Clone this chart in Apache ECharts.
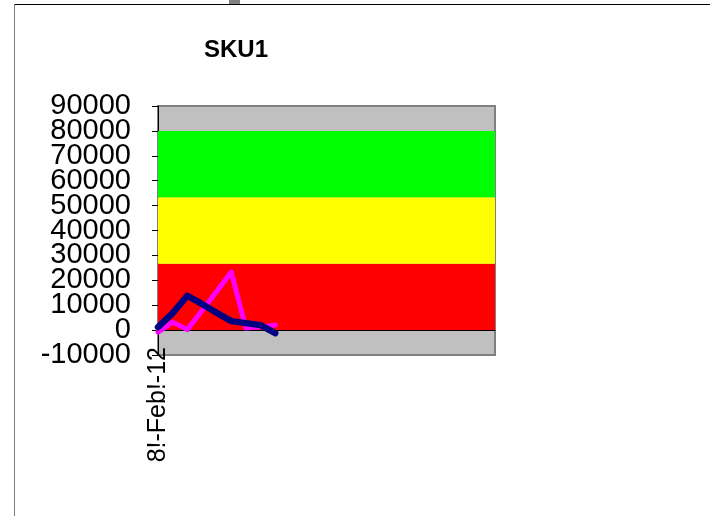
<!DOCTYPE html>
<html>
<head>
<meta charset="utf-8">
<script src="https://cdn.jsdelivr.net/npm/echarts@6/dist/echarts.min.js"></script>
<style>html,body{margin:0;padding:0;background:#fff;}#c{width:710px;height:516px;}</style>
</head>
<body>
<div id="c"></div>
<script>
var categories = ["8!-Feb!-12","9!-Feb!-12","10!-Feb!-12","11!-Feb!-12","12!-Feb!-12","13!-Feb!-12","14!-Feb!-12","15!-Feb!-12","16!-Feb!-12","17!-Feb!-12","18!-Feb!-12","19!-Feb!-12","20!-Feb!-12","21!-Feb!-12","22!-Feb!-12","23!-Feb!-12","24!-Feb!-12","25!-Feb!-12","26!-Feb!-12","27!-Feb!-12","28!-Feb!-12","29!-Feb!-12","1!-Mar!-12","2!-Mar!-12"];
var magentaValues = [-800, 3200, 200, 7800, 15500, 23300, 800, 1300, 2000];
var navyValues = [1200, 6800, 13800, 10500, 7000, 3600, 2800, 2000, -1200];
var bands = [
  {from: 0, to: 26667, color: "#FF0000"},
  {from: 26667, to: 53333, color: "#FFFF00"},
  {from: 53333, to: 80000, color: "#00FF00"}
];
var yMin = -10000, yMax = 90000, yStep = 10000;
var yTickLabelsOdd = [-10000, 10000, 30000, 50000, 70000, 90000];
var yTickLabelsEven = [0, 20000, 40000, 60000, 80000];

var chart = echarts.init(document.getElementById('c'));
var font = "'Liberation Sans', Arial, sans-serif";
function yLabel(vals) {
  return {
    margin: 27, fontFamily: font, fontSize: 29, color: '#000',
    customValues: vals, showMinLabel: true, showMaxLabel: true,
    formatter: function (v) { return String(v); }
  };
}
chart.setOption({
  backgroundColor: '#ffffff',
  animation: false,
  title: {
    text: 'SKU1', left: 231, top: 33, textAlign: 'center',
    textStyle: {fontFamily: font, fontSize: 24, fontWeight: 'bold', color: '#000'}
  },
  graphic: [
    {type: 'line', shape: {x1: 14, y1: 4.5, x2: 710, y2: 4.5}, style: {stroke: '#000', lineWidth: 1}, silent: true},
    {type: 'line', shape: {x1: 14.5, y1: 4, x2: 14.5, y2: 516}, style: {stroke: '#808080', lineWidth: 1}, silent: true},
    {type: 'rect', shape: {x: 229, y: 0, width: 11, height: 4}, style: {fill: '#808080'}, silent: true}
  ],
  grid: {
    left: 158, top: 106, width: 337, height: 249,
    show: true, backgroundColor: '#C0C0C0', borderColor: '#808080', borderWidth: 2
  },
  xAxis: {
    type: 'category', data: categories, boundaryGap: false,
    axisLine: {show: true, onZero: true, onZeroAxisIndex: 0, lineStyle: {color: '#000', width: 1}},
    axisTick: {show: false},
    splitLine: {show: false},
    axisLabel: {
      rotate: 90, margin: -8, fontFamily: font, fontSize: 25, color: '#000',
      interval: function (i) { return i === 0; }
    }
  },
  yAxis: [
    {
      type: 'value', position: 'left', min: yMin, max: yMax, interval: yStep,
      axisLine: {show: true, onZero: false, lineStyle: {color: '#000', width: 1}},
      axisTick: {show: true, length: 6, lineStyle: {color: '#000'}},
      splitLine: {show: false},
      axisLabel: yLabel(yTickLabelsOdd)
    },
    {
      type: 'value', position: 'left', offset: 0, min: yMin, max: yMax, interval: yStep,
      axisLine: {show: false, onZero: false},
      axisTick: {show: false},
      splitLine: {show: false},
      axisLabel: yLabel(yTickLabelsEven)
    }
  ],
  series: [
    {
      type: 'line', name: 'bands', data: [], silent: true, yAxisIndex: 0,
      markArea: {
        silent: true,
        data: bands.map(function (b) {
          return [{yAxis: b.from, itemStyle: {color: b.color, opacity: 1}}, {yAxis: b.to}];
        })
      },
      z: 1
    },
    {
      type: 'line', name: 'A', data: magentaValues, showSymbol: false, symbol: 'none', yAxisIndex: 0,
      lineStyle: {color: '#FF00FF', width: 5, join: 'round', cap: 'round'}, z: 3
    },
    {
      type: 'line', name: 'B', data: navyValues, showSymbol: false, symbol: 'none', yAxisIndex: 0,
      lineStyle: {color: '#000080', width: 6.5, join: 'round', cap: 'round'}, z: 4
    }
  ]
});
</script>
</body>
</html>
